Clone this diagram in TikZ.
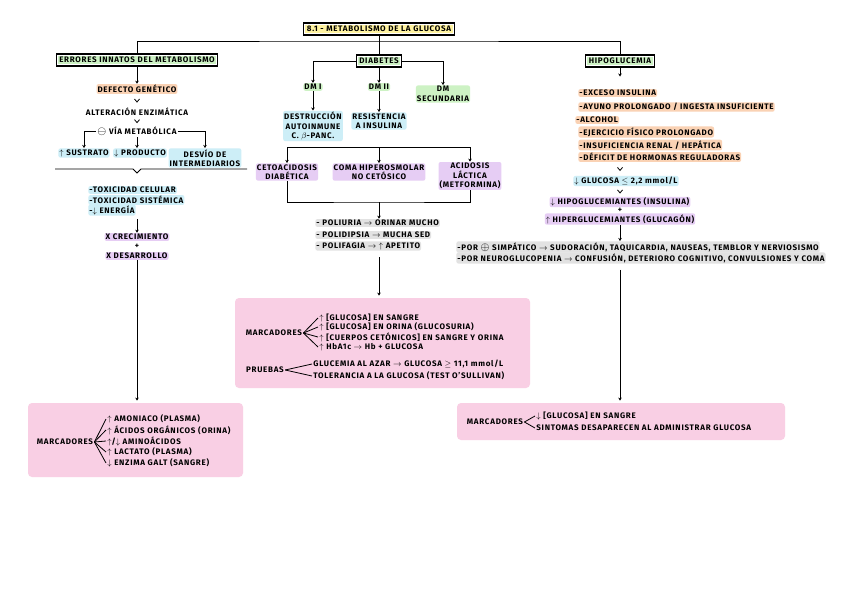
\documentclass[tikz,border=0pt]{standalone}
\usepackage{fontspec}
\setmainfont{Fira Sans}[LetterSpace=9]
\usetikzlibrary{arrows.meta,calc}
\definecolor{hverde}{HTML}{CDF2C4}
\definecolor{hnaranja}{HTML}{FAD2B4}
\definecolor{hazul}{HTML}{CDEEF7}
\definecolor{hlila}{HTML}{E6CDF4}
\definecolor{hgris}{HTML}{E2E2E2}
\definecolor{hamarillo}{HTML}{FFF3A0}
\definecolor{rosa}{HTML}{F9CFE4}
\newcommand{\marca}[2]{{\fboxsep=1.5pt\colorbox{#1}{#2}}}
\newcommand{\chev}[1]{\draw (#1) ++(-2.5,-1.5) -- ++(2.5,3) -- ++(2.5,-3);}
\newcommand{\circop}[1]{\raisebox{-0.5pt}{\scalebox{1.35}{$#1$}}}
\begin{document}
\begin{tikzpicture}[x=1pt,y=-1pt,>={Stealth[length=3pt,width=3.5pt]},line width=0.8pt,
  font=\fontsize{8}{9.5}\selectfont\bfseries,
  txt/.style={inner sep=1pt,align=center},
  hl/.style={txt,fill=#1,rounded corners=2pt},
  izq/.style={anchor=west},
  caja/.style={draw,line width=1.2pt,inner sep=1.5pt,fill=white},
  rosabox/.style={fill=rosa,rounded corners=4pt,inner sep=0pt}]
\useasboundingbox[fill=white] (0,0) rectangle (848,599);

% fondos rosas
\node[rosabox,minimum width=215pt,minimum height=74pt] (pk1) at (135.5,440) {};
\node[rosabox,minimum width=295pt,minimum height=90pt] (pk2) at (382.5,343) {};
\node[rosabox,minimum width=328pt,minimum height=37pt] (pk3) at (621,421.5) {};

% titulo y ramas
\node[caja] (tit) at (379,29) {\marca{hamarillo}{8.1 - METABOLISMO DE LA GLUCOSA}};
\node[caja] (eim) at (137,60) {\marca{hverde}{ERRORES INNATOS DEL METABOLISMO}};
\node[caja] (dia) at (379,61) {\marca{hverde}{DIABETES}};
\node[caja] (hg) at (620,61) {\marca{hverde}{HIPOGLUCEMIA}};
\coordinate (bar) at (379,41);
\draw (eim.north) |- (bar) -| (hg.north);
\draw (tit.south) -- (dia.north);

% errores innatos
\node[hl=hnaranja] (dg) at (137,89) {DEFECTO GENÉTICO};
\node[txt] (ae) at (137,112) {ALTERACIÓN ENZIMÁTICA};
\node[txt] (vm) at (137,131) {\circop{\ominus} VÍA METABÓLICA};
\chev{$(dg.south)!.5!(ae.north)$}
\chev{$(ae.south)!.5!(vm.north)$}
\draw[->] (eim.south) -- (dg.north);
\node[hl=hazul] (ss) at (84,153) {$\uparrow$ SUSTRATO};
\node[hl=hazul] (pr) at (140,153) {$\downarrow$ PRODUCTO};
\node[hl=hazul] (di) at (205,158) {DESVÍO DE\\INTERMEDIARIOS};
\draw[->] (vm.west) -| (ss.north);
\draw[->] (vm.south) -- (vm.south |- pr.north);
\draw[->] (vm.east) -| (di.north);
\coordinate (bl) at (55,169);
\coordinate (br) at (247,169);
\draw (bl) -- ++(78,0) -- ++(4,4) -- ++(4,-4) -- (br);
\node[hl=hazul,izq] (tx1) at (88,190) {-TOXICIDAD CELULAR};
\node[hl=hazul,izq] (tx2) at (88,200) {-TOXICIDAD SISTÉMICA};
\node[hl=hazul,izq] (tx3) at (88,210) {-$\downarrow$ ENERGÍA};
\node[hl=hlila] (cr) at (137,237) {X CRECIMIENTO};
\node[txt] (mas1) at (137,246) {+};
\node[hl=hlila] (ds) at (137,256) {X DESARROLLO};
\draw[->] ($(tx3.south -| cr.north)+(0,3)$) -- (cr.north);
\draw[->] (ds.south) -- ($(pk1.north -| ds.south)+(0,-2)$);
\node[txt] (m1) at (65,442) {MARCADORES};
\node[txt,izq] (a1) at (106,419) {$\uparrow$ AMONIACO (PLASMA)};
\node[txt,izq] (a2) at (106,430) {$\uparrow$ ÁCIDOS ORGÁNICOS (ORINA)};
\node[txt,izq] (a3) at (106,441) {$\uparrow$/$\downarrow$ AMINOÁCIDOS};
\node[txt,izq] (a4) at (106,452) {$\uparrow$ LACTATO (PLASMA)};
\node[txt,izq] (a5) at (106,463) {$\downarrow$ ENZIMA GALT (SANGRE)};
\foreach \i in {1,...,5} \draw (m1.east) -- (a\i.west);

% diabetes
\node[hl=hverde] (n1) at (313,87) {DM I};
\node[hl=hverde] (n2) at (379,87) {DM II};
\node[hl=hverde] (n3) at (443,94) {DM\\SECUNDARIA};
\draw[->] (dia.west) -| (n1.north);
\draw[->] (dia.south) -- (n2.north);
\draw[->] (dia.east) -| (n3.north);
\node[hl=hazul] (dai) at (313,126) {DESTRUCCIÓN\\AUTOINMUNE\\C. $\beta$-PANC.};
\node[hl=hazul] (ri) at (379,121) {RESISTENCIA\\A INSULINA};
\draw[->] (n1.south) -- (dai.north);
\draw[->] (n2.south) -- (ri.north);
\node[hl=hlila] (ca) at (287,172) {CETOACIDOSIS\\DIABÉTICA};
\node[hl=hlila] (co) at (379,172) {COMA HIPEROSMOLAR\\NO CETÓSICO};
\node[hl=hlila] (al) at (470,176) {ACIDOSIS\\LÁCTICA\\(METFORMINA)};
\coordinate (bm) at (379,147);
\draw[->] (bm) -| (ca.north);
\draw[->] (bm) -| (al.north);
\draw[->] (bm) -- (co.north);
\coordinate (bx) at (379,202);
\draw (ca.south) |- (bx) -| (al.south);
\node[hl=hgris,izq] (p1) at (315,223) {- POLIURIA $\rightarrow$ ORINAR MUCHO};
\node[hl=hgris,izq] (p2) at (315,235) {- POLIDIPSIA $\rightarrow$ MUCHA SED};
\node[hl=hgris,izq] (p3) at (315,246) {- POLIFAGIA $\rightarrow$ $\uparrow$ APETITO};
\draw[->] (bx) -- (bx |- p1.north);
\draw[->] ($(p3.south -| bx)+(0,6)$) -- ($(pk2.north -| bx)+(0,-2)$);
\node[txt] (m2) at (274,333) {MARCADORES};
\node[txt,izq] (b1) at (318,318) {$\uparrow$ [GLUCOSA] EN SANGRE};
\node[txt,izq] (b2) at (318,327) {$\uparrow$ [GLUCOSA] EN ORINA (GLUCOSURIA)};
\node[txt,izq] (b3) at (318,337) {$\uparrow$ [CUERPOS CETÓNICOS] EN SANGRE Y ORINA};
\node[txt,izq] (b4) at (318,347) {$\uparrow$ HbA1c $\rightarrow$ Hb + GLUCOSA};
\foreach \i in {1,...,4} \draw (m2.east) -- (b\i.west);
\node[txt] (pru) at (265,370) {PRUEBAS};
\node[txt,izq] (c1) at (312,364) {GLUCEMIA AL AZAR $\rightarrow$ GLUCOSA $\geq$ 11,1 mmol/L};
\node[txt,izq] (c2) at (312,376) {TOLERANCIA A LA GLUCOSA (TEST O'SULLIVAN)};
\foreach \i in {1,2} \draw (pru.east) -- (c\i.west);

% hipoglucemia
\node[hl=hnaranja,izq] (h1) at (578,93) {-EXCESO INSULINA};
\node[hl=hnaranja,izq] (h2) at (578,107) {-AYUNO PROLONGADO / INGESTA INSUFICIENTE};
\node[hl=hnaranja,izq] (h3) at (575,120) {-ALCOHOL};
\node[hl=hnaranja,izq] (h4) at (578,132) {-EJERCICIO FÍSICO PROLONGADO};
\node[hl=hnaranja,izq] (h5) at (578,145) {-INSUFICIENCIA RENAL / HEPÁTICA};
\node[hl=hnaranja,izq] (h6) at (578,157) {-DÉFICIT DE HORMONAS REGULADORAS};
\draw[->] (hg.south) -- ($(hg.south)+(0,9)$);
\node[hl=hazul] (gl) at (626,181) {$\downarrow$ GLUCOSA $\leq$ 2,2 mmol/L};
\chev{$(h6.south -| hg.south)!.5!(gl.north -| hg.south)$}
\node[hl=hlila] (hi1) at (620,202) {$\downarrow$ HIPOGLUCEMIANTES (INSULINA)};
\node[txt] (mas2) at (620,210) {+};
\node[hl=hlila] (hi2) at (620,219) {$\uparrow$ HIPERGLUCEMIANTES (GLUCAGÓN)};
\chev{$(gl.south -| hg.south)!.5!(hi1.north -| hg.south)$}
\node[hl=hgris,izq] (s1) at (456,247) {-POR \circop{\oplus} SIMPÁTICO $\rightarrow$ SUDORACIÓN, TAQUICARDIA, NAUSEAS, TEMBLOR Y NERVIOSISMO};
\node[hl=hgris,izq] (s2) at (456,258) {-POR NEUROGLUCOPENIA $\rightarrow$ CONFUSIÓN, DETERIORO COGNITIVO, CONVULSIONES Y COMA};
\draw[->] (hi2.south) -- (hi2.south |- s1.north);
\draw[->] ($(s2.south -| hg.south)+(0,6)$) -- ($(pk3.north -| hg.south)+(0,-2)$);
\node[txt] (m3) at (495,422) {MARCADORES};
\node[txt,izq] (d1) at (535,416) {$\downarrow$ [GLUCOSA] EN SANGRE};
\node[txt,izq] (d2) at (535,428) {SINTOMAS DESAPARECEN AL ADMINISTRAR GLUCOSA};
\foreach \i in {1,2} \draw (m3.east) -- (d\i.west);
\end{tikzpicture}
\end{document}
